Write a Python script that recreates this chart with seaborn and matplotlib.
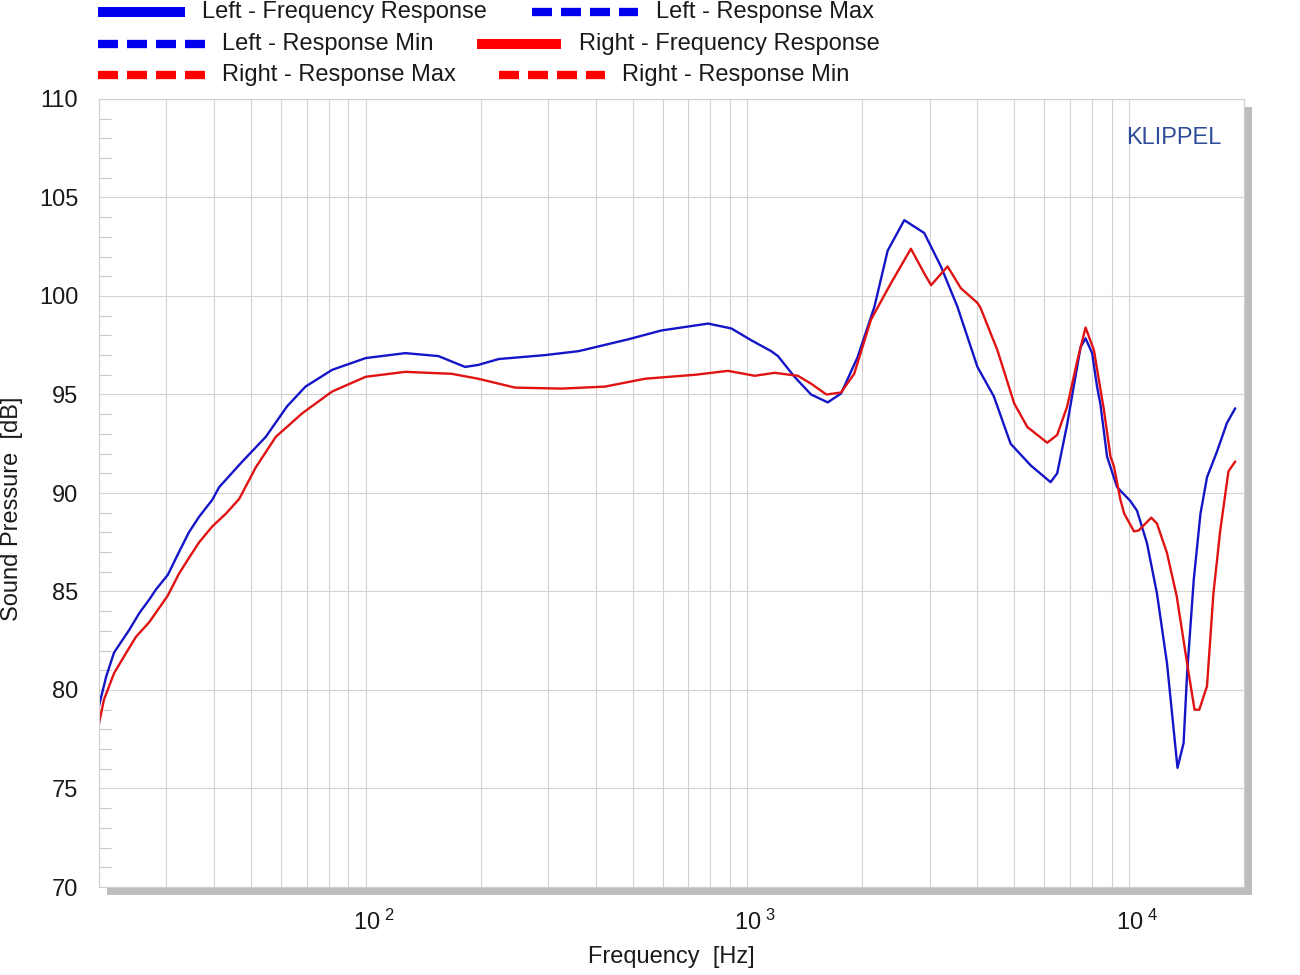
import numpy as np
import pandas as pd
import matplotlib
matplotlib.use("Agg")
import matplotlib.pyplot as plt
import matplotlib.transforms as mtransforms
import seaborn as sns
from matplotlib.lines import Line2D
from matplotlib.patches import Rectangle
from matplotlib.ticker import FixedLocator, NullFormatter

# ---------------- data ----------------
left_freq = [20, 20.9, 21.9, 24.0, 25.5, 27.1, 28.2, 30.3, 32.4, 34.4, 36.6, 39.6, 41.3,
             47.5, 54.7, 62.2, 69.5, 81.6, 100, 127, 155, 182, 197, 223, 295, 361, 487,
             595, 789, 908, 1024, 1154, 1202, 1328, 1468, 1623, 1759, 1944, 2151, 2330,
             2576, 2905, 3213, 3550, 4005, 4423, 4893, 5524, 6227, 6480, 6884, 7461,
             7690, 8000, 8242, 8412, 8754, 9298, 10070, 10490, 11140, 11830, 12570,
             13390, 13890, 14190, 14770, 15380, 16000, 16990, 18040, 18970]
left_spl = [79.2, 80.7, 81.9, 83.05, 83.9, 84.6, 85.1, 85.85, 87.0, 88.0, 88.8, 89.65, 90.3,
            91.6, 92.85, 94.4, 95.4, 96.25, 96.85, 97.1, 96.95, 96.4, 96.5, 96.8, 97.0,
            97.2, 97.8, 98.25, 98.6, 98.35, 97.75, 97.2, 96.95, 95.9, 95.0, 94.6, 95.05,
            96.9, 99.45, 102.3, 103.85, 103.2, 101.5, 99.45, 96.4, 94.9, 92.5, 91.4, 90.55,
            91.0, 93.5, 97.4, 97.85, 97.1, 95.4, 94.5, 91.85, 90.3, 89.6, 89.1, 87.45,
            84.9, 81.35, 76.05, 77.3, 80.85, 85.6, 88.95, 90.8, 92.1, 93.55, 94.3]

right_freq = [20, 20.6, 21.9, 23.5, 25.0, 27.1, 30.3, 32.4, 34.4, 36.6, 39.6, 43.0, 46.6,
              51.5, 58.1, 68.2, 81.6, 100, 127, 168, 197, 223, 246, 326, 423, 539, 728,
              889, 1045, 1178, 1355, 1468, 1610, 1759, 1904, 2107, 2377, 2681, 2905, 3028,
              3345, 3622, 4005, 4080, 4518, 4998, 5412, 6103, 6480, 6884, 7323, 7690,
              8087, 8593, 8936, 9127, 9490, 9710, 10300, 10600, 11430, 11830, 12570,
              13330, 14190, 14840, 15270, 16000, 16630, 17330, 18210, 18970]
right_spl = [78.3, 79.5, 80.85, 81.85, 82.7, 83.45, 84.8, 85.9, 86.7, 87.5, 88.3, 88.95,
             89.7, 91.3, 92.85, 94.05, 95.15, 95.9, 96.15, 96.05, 95.8, 95.55, 95.35, 95.3,
             95.4, 95.8, 96.0, 96.2, 95.95, 96.1, 95.95, 95.55, 95.0, 95.1, 96.05, 98.8,
             100.65, 102.4, 101.15, 100.55, 101.5, 100.4, 99.65, 99.4, 97.25, 94.55, 93.35,
             92.55, 92.95, 94.4, 96.75, 98.4, 97.25, 94.2, 91.85, 91.35, 89.65, 88.95,
             88.05, 88.1, 88.75, 88.45, 86.95, 84.75, 81.35, 79.0, 79.0, 80.2, 84.9,
             88.1, 91.1, 91.6]

series_names = ["Left - Frequency Response", "Right - Frequency Response"]
legend_labels = ["Left - Frequency Response", "Left - Response Max",
                 "Left - Response Min", "Right - Frequency Response",
                 "Right - Response Max", "Right - Response Min"]
y_ticks = [70, 75, 80, 85, 90, 95, 100, 105, 110]
x_ticks = [100, 1000, 10000]
x_tick_labels = [r"$\mathregular{10^{\ 2}}$", r"$\mathregular{10^{\ 3}}$",
                 r"$\mathregular{10^{\ 4}}$"]

df = pd.concat([
    pd.DataFrame({"freq": left_freq, "spl": left_spl, "series": series_names[0]}),
    pd.DataFrame({"freq": right_freq, "spl": right_spl, "series": series_names[1]}),
])

# ---------------- style ----------------
sns.set_theme(style="white")
plt.rcParams["font.family"] = ["Liberation Sans", "DejaVu Sans"]
plt.rcParams["mathtext.fontset"] = "custom"
plt.rcParams["mathtext.rm"] = "Liberation Sans"

BLUE = "#1515c8"
RED = "#e01212"
LBLUE = "#0000ee"
LRED = "#ff0000"
GRID = "#d2d2d2"
TXT = "#1a1a1a"
FS = 17

W, H = 1300, 975
fig = plt.figure(figsize=(13, 9.75), dpi=100)
fig.patch.set_facecolor("white")

# plot area in pixels
L, R, T, B = 99, 1244, 99, 887
# drop shadow
fig.add_artist(Rectangle(((L + 8) / W, 1 - (B + 8) / H), (R - L) / W, (B - T) / H,
                         transform=fig.transFigure, facecolor="#bdbdbd",
                         edgecolor="none", zorder=0))
ax = fig.add_axes([L / W, 1 - B / H, (R - L) / W, (B - T) / H], zorder=1)
ax.set_facecolor("white")

sns.lineplot(data=df, x="freq", y="spl", hue="series",
             palette={series_names[0]: BLUE, series_names[1]: RED},
             estimator=None, sort=False, linewidth=1.7, legend=False, ax=ax)
for ln in ax.get_lines():
    ln.set_solid_joinstyle("round")

ax.set_xscale("log")
ax.set_xlim(20, 20000)
ax.set_ylim(70, 110)

ax.set_xticks(x_ticks)
ax.set_xticklabels(x_tick_labels)
ax.xaxis.set_minor_locator(FixedLocator(
    [m * 10 ** e for e in range(1, 5) for m in range(2, 10) if 20 <= m * 10 ** e <= 20000]))
ax.xaxis.set_minor_formatter(NullFormatter())
ax.set_yticks(y_ticks)
ax.yaxis.set_minor_locator(FixedLocator([v for v in range(70, 111) if v % 5 != 0]))

ax.grid(True, which="both", axis="x", color=GRID, linewidth=0.8)
ax.grid(True, which="major", axis="y", color=GRID, linewidth=0.8)
ax.set_axisbelow(True)

ax.tick_params(axis="both", which="major", length=0, labelsize=FS, labelcolor=TXT)
ax.tick_params(axis="y", which="major", pad=15)
ax.tick_params(axis="x", which="major", pad=16)
ax.tick_params(axis="y", which="minor", direction="in", length=8.5, width=0.8,
               color="#c8c8c8", left=True)
ax.tick_params(axis="x", which="minor", length=0)

offset = mtransforms.ScaledTranslation(8 / 100, 0, fig.dpi_scale_trans)
for lab in ax.get_xticklabels():
    lab.set_transform(lab.get_transform() + offset)

for s in ax.spines.values():
    s.set_color("#cfcfcf")
    s.set_linewidth(0.8)

ax.set_xlabel("Frequency  [Hz]", fontsize=FS, color=TXT, labelpad=8)
ax.set_ylabel("Sound Pressure  [dB]", fontsize=FS, color=TXT)
ax.yaxis.set_label_coords(-(L - 23) / (R - L), 0.48)

ax.text(0.939, 0.95, "KLIPPEL", transform=ax.transAxes, ha="center", va="center",
        fontsize=FS, color="#2f4d98")

# ---------------- legend (figure top, flowing rows) ----------------
entries = [
    # (row_y, x0, x1, text_x, color, solid, label index)
    (12, 98, 185, 202, LBLUE, True, 0),
    (12, 532, 638, 656, LBLUE, False, 1),
    (44, 98, 205, 222, LBLUE, False, 2),
    (44, 477, 561, 579, LRED, True, 3),
    (75, 98, 205, 222, LRED, False, 4),
    (75, 499, 605, 622, LRED, False, 5),
]
for ry, x0, x1, tx, col, solid, idx in entries:
    yy = 1 - ry / H
    if solid:
        ln = Line2D([x0 / W, x1 / W], [yy, yy], transform=fig.transFigure, color=col,
                    linewidth=7.2, solid_capstyle="butt")
    else:
        ln = Line2D([x0 / W, x1 / W], [yy, yy], transform=fig.transFigure, color=col,
                    linewidth=6, linestyle=(0, (2.4, 1.08)), dash_capstyle="butt")
    fig.add_artist(ln)
    fig.text(tx / W, yy, legend_labels[idx], ha="left", va="center", fontsize=FS,
             color=TXT)

fig.savefig("out.png", dpi=100, facecolor="white")
